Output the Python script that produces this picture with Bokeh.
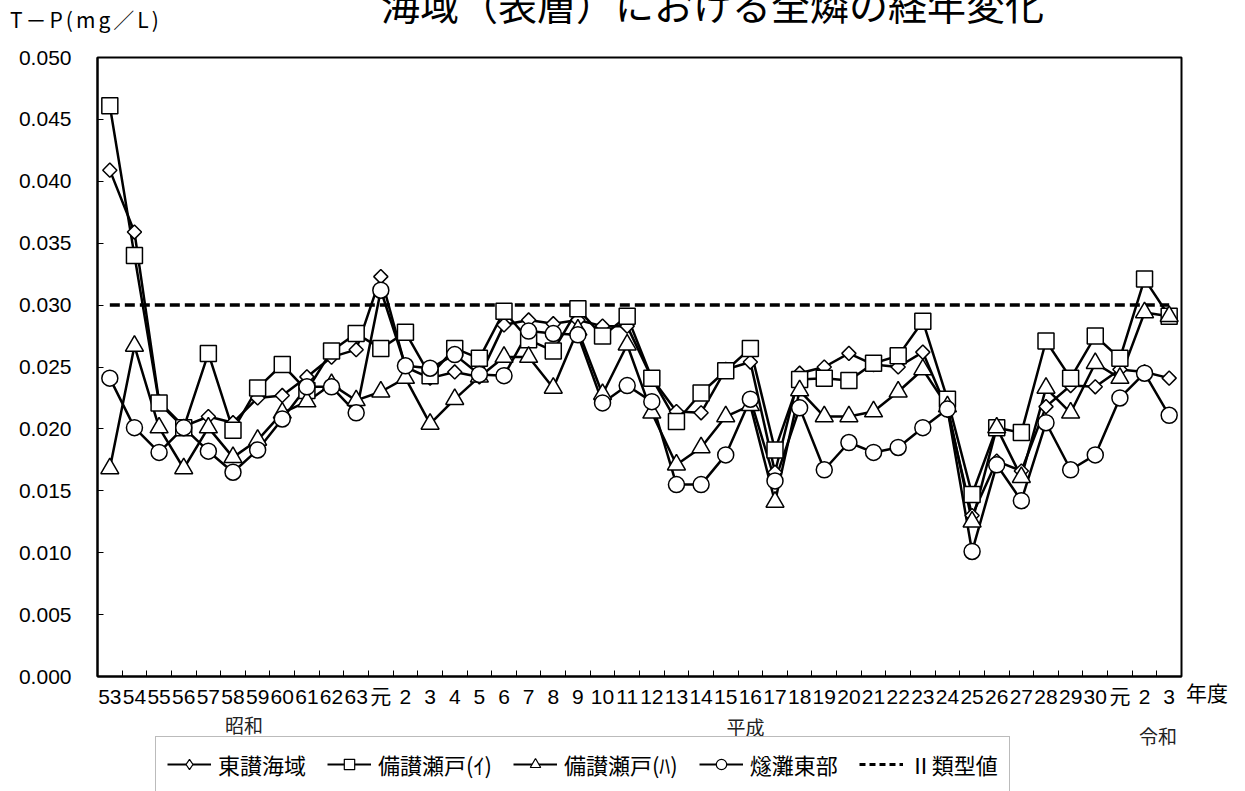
from bokeh.plotting import figure
from bokeh.layouts import column
from bokeh.models import (FixedTicker, Legend, LegendItem, Label, NumeralTickFormatter, Div,
                          Range1d)
from bokeh.embed import file_html
from bokeh.resources import INLINE

# ---------------- data ----------------
years = ["53", "54", "55", "56", "57", "58", "59", "60", "61", "62", "63",
         "元", "2", "3", "4", "5", "6", "7", "8", "9", "10", "11", "12", "13",
         "14", "15", "16", "17", "18", "19", "20", "21", "22", "23", "24", "25",
         "26", "27", "28", "29", "30", "元", "2", "3"]

eras = ["昭和", "平成", "令和"]
era_pos = [5.45, 25.8, 42.55]          # category position of each era caption

series_names = ["東讃海域", "備讃瀬戸(ｲ)", "備讃瀬戸(ﾊ)", "燧灘東部"]

toosan = [0.0409, 0.0359, 0.0222, 0.0202, 0.0210, 0.0205, 0.0225, 0.0227, 0.0242, 0.0258, 0.0264,
          0.0323, 0.0250, 0.0241, 0.0246, 0.0242, 0.0284, 0.0288, 0.0285, 0.0288, 0.0283, 0.0283,
          0.0241, 0.0214, 0.0213, 0.0248, 0.0254, 0.0165, 0.0245, 0.0250, 0.0261, 0.0252, 0.0250,
          0.0262, 0.0215, 0.0130, 0.0174, 0.0166, 0.0218, 0.0235, 0.0234, 0.0248, 0.0246, 0.0241]

bisan_i = [0.0461, 0.0340, 0.0221, 0.0201, 0.0261, 0.0199, 0.0233, 0.0252, 0.0231, 0.0263, 0.0277,
           0.0265, 0.0278, 0.0243, 0.0265, 0.0257, 0.0295, 0.0272, 0.0263, 0.0297, 0.0275, 0.0291,
           0.0241, 0.0206, 0.0229, 0.0247, 0.0265, 0.0183, 0.0240, 0.0241, 0.0239, 0.0253, 0.0259,
           0.0287, 0.0224, 0.0147, 0.0201, 0.0197, 0.0271, 0.0241, 0.0275, 0.0257, 0.0321, 0.0291]

bisan_ha = [0.0168, 0.0267, 0.0201, 0.0168, 0.0201, 0.0177, 0.0191, 0.0213, 0.0222, 0.0236, 0.0223,
            0.0230, 0.0241, 0.0204, 0.0224, 0.0242, 0.0258, 0.0258, 0.0233, 0.0280, 0.0228, 0.0268,
            0.0213, 0.0171, 0.0185, 0.0210, 0.0219, 0.0141, 0.0231, 0.0210, 0.0210, 0.0214, 0.0230,
            0.0248, 0.0218, 0.0125, 0.0201, 0.0161, 0.0233, 0.0213, 0.0253, 0.0241, 0.0294, 0.0291]

hiuchi = [0.0241, 0.0201, 0.0181, 0.0201, 0.0182, 0.0165, 0.0183, 0.0208, 0.0234, 0.0234, 0.0213,
          0.0312, 0.0251, 0.0249, 0.0260, 0.0244, 0.0243, 0.0279, 0.0277, 0.0276, 0.0221, 0.0235,
          0.0222, 0.0155, 0.0155, 0.0179, 0.0224, 0.0158, 0.0217, 0.0167, 0.0189, 0.0181, 0.0185,
          0.0201, 0.0216, 0.0101, 0.0171, 0.0142, 0.0205, 0.0167, 0.0179, 0.0225, 0.0245, 0.0211]

standard_name = "Ⅱ類型値"
standard_value = 0.030

y_ticks = [0.000, 0.005, 0.010, 0.015, 0.020, 0.025, 0.030, 0.035, 0.040, 0.045, 0.050]

title_text = "海域（表層）における全燐の経年変化"
y_title = "T－P(mg／L)"
x_title = "年度"

# ---------------- layout constants ----------------
W = 1245
H_TOP = 34          # strip holding the (cut) title and the unit
H_MAIN = 676        # chart with its axes
H_BOT = 81          # era captions and legend
FONT = "Liberation Sans, Noto Sans CJK JP"
JP = "Noto Sans CJK JP"

# ---------------- top strip: title, unit, and the "年度" caption ----------------
span = ("position:absolute;white-space:nowrap;line-height:1;color:#000;"
        "font-family:'Noto Sans CJK JP';z-index:10;")
top_html = (
    f'<div style="position:relative;width:{W}px;height:{H_TOP}px;">'
    f'<span style="{span}left:381px;top:-16px;font-size:39px;">{title_text}</span>'
    f'<span style="{span}left:10px;top:9px;font-size:21px;letter-spacing:3px;">{y_title}</span>'
    f'<span style="{span}left:1186px;top:682px;font-size:21px;">{x_title}</span>'
    '</div>'
)
top = Div(text=top_html, width=W, height=H_TOP, margin=0)

# ---------------- main chart ----------------
n = len(years)
xs = list(range(n))

p = figure(width=W, height=H_MAIN, output_backend="svg", toolbar_location=None,
           x_range=(-0.5, n - 0.5), y_range=(0, 0.05),
           min_border_left=97, min_border_right=64, min_border_top=57 - H_TOP,
           min_border_bottom=710 - 677)
p.xgrid.visible = False
p.ygrid.visible = False
p.outline_line_color = "black"
p.outline_line_width = 2
p.outline_line_alpha = 1.0
p.border_fill_alpha = 0.0

p.xaxis.ticker = FixedTicker(ticks=xs, minor_ticks=[i + 0.5 for i in range(n - 1)])
p.xaxis.major_label_overrides = {i: years[i] for i in xs}
p.xaxis.major_tick_line_color = None
p.xaxis.major_tick_in = 0
p.xaxis.major_tick_out = 0
p.xaxis.minor_tick_in = 6
p.xaxis.minor_tick_out = 0
p.xaxis.minor_tick_line_color = "black"
p.xaxis.minor_tick_line_width = 1
p.xaxis.axis_line_width = 2
p.xaxis.axis_line_color = "black"
p.xaxis.major_label_text_font = FONT
p.xaxis.major_label_text_font_size = "21px"
p.xaxis.major_label_text_color = "black"
p.xaxis.major_label_standoff = 8

p.yaxis.ticker = FixedTicker(ticks=y_ticks)
p.yaxis.formatter = NumeralTickFormatter(format="0.000")
p.yaxis.major_tick_in = 6
p.yaxis.major_tick_out = 0
p.yaxis.major_tick_line_color = "black"
p.yaxis.minor_tick_line_color = None
p.yaxis.axis_line_width = 2
p.yaxis.axis_line_color = "black"
p.yaxis.major_label_text_font = FONT
p.yaxis.major_label_text_font_size = "21px"
p.yaxis.major_label_text_color = "black"
p.yaxis.major_label_standoff = 26

series = [toosan, bisan_i, bisan_ha, hiuchi]
markers = [("square", 10, 0.785398), ("square", 16, 0.0), ("triangle", 18, 0.0), ("circle", 16, 0.0)]
legend_markers = ["diamond", "square", "triangle", "circle"]
LINE = dict(line_color="black", line_width=2.5)
STD = dict(line_color="black", line_width=3.5, line_dash="10 5")
MK = dict(fill_color="white", line_color="black", line_width=1.5)

p.line(xs, [standard_value] * n, **STD)
for vals in series:
    p.line(xs, vals, **LINE)
for vals, (mk, sz, ang) in zip(series, markers):
    p.scatter(xs, vals, marker=mk, size=sz, angle=ang, **MK)

# ---------------- bottom strip: era captions + legend ----------------
fb = figure(width=W, height=H_BOT, output_backend="svg", toolbar_location=None,
            x_axis_type=None, y_axis_type=None, x_range=p.x_range, y_range=Range1d(0, H_BOT),
            min_border_left=97, min_border_right=64, min_border_top=0, min_border_bottom=0)
fb.outline_line_color = None
fb.xgrid.visible = False
fb.ygrid.visible = False
# the series are repeated here on a range that keeps them out of view; they only feed the legend
fb.extra_y_ranges = {"offview": Range1d(1, 2)}

era_y = [67, 65, 56]   # pixel heights of the captions inside the strip
for nm, ex, ey in zip(eras, era_pos, era_y):
    fb.add_layout(Label(x=ex, y=ey, text=nm, text_font=JP, text_font_size="19px",
                        text_align="center", text_baseline="middle", text_color="#222222"))

LEG_LINE = dict(line_color="black", line_width=1.8)
LEG_MK = dict(fill_color="white", line_color="black", line_width=1.2)
items = []
for nm, vals, mk in zip(series_names, series, legend_markers):
    lr = fb.line(xs, vals, y_range_name="offview", **LEG_LINE)
    mr = fb.scatter(xs, vals, marker=mk, size=10, y_range_name="offview", **LEG_MK)
    items.append(LegendItem(label=nm, renderers=[lr, mr]))
sr = fb.line(xs, [standard_value] * n, y_range_name="offview",
             line_color="black", line_width=3, line_dash="6 4")
items.append(LegendItem(label=standard_name, renderers=[sr]))

legend = Legend(items=items, orientation="horizontal", location=(58, -1),
                label_text_font=JP, label_text_font_size="22px", label_text_color="black",
                glyph_width=44, glyph_height=26, label_height=30, label_standoff=7, spacing=21,
                padding=11, border_line_color="#777777", border_line_width=1,
                background_fill_color="white", background_fill_alpha=1.0, margin=0)
fb.add_layout(legend)

layout = column(top, p, fb, spacing=0)
open("out.html", "w").write(file_html(layout, INLINE))
